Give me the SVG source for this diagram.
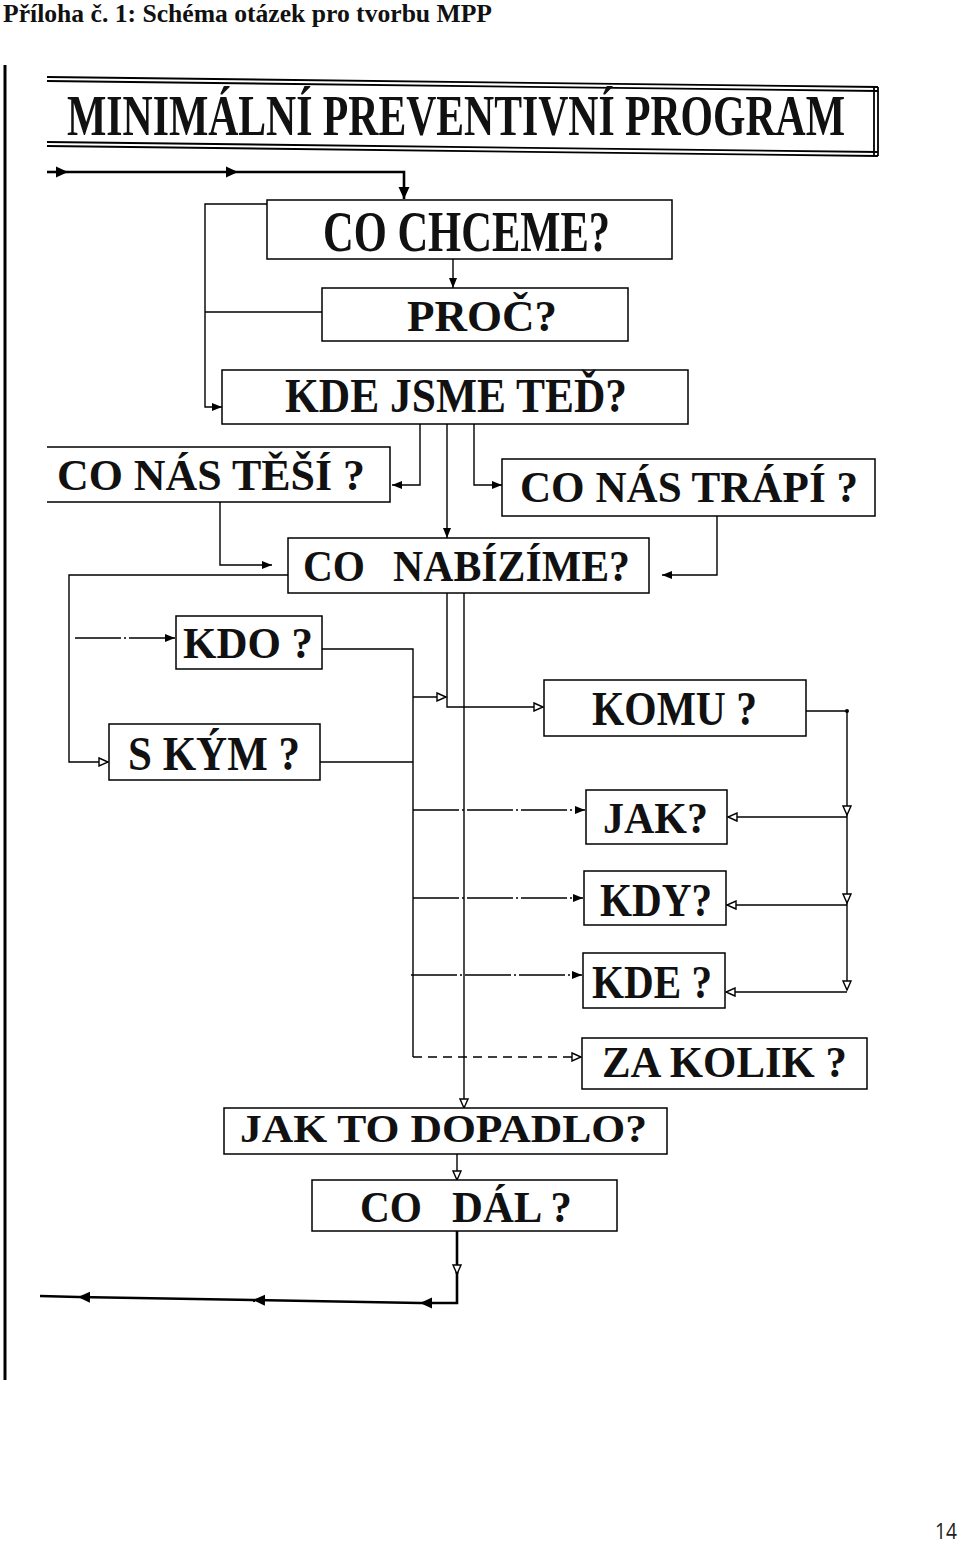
<svg xmlns="http://www.w3.org/2000/svg" width="960" height="1543" viewBox="0 0 960 1543">
<style>
  .bx{fill:#fff;stroke:#000;stroke-width:1.5}
  .t{font-family:"Liberation Serif","Times New Roman",serif;font-weight:bold;fill:#111}
  .c{fill:none;stroke:#000;stroke-width:1.4}
  .thick{fill:none;stroke:#000;stroke-width:2.6}
  .dd{fill:none;stroke:#000;stroke-width:1.3;stroke-dasharray:46 3 2 3}
  .dash{fill:none;stroke:#000;stroke-width:1.3;stroke-dasharray:9 6}
  .tl{fill:none;stroke:#000;stroke-width:1.8}
</style>
<defs>
  <marker id="af" markerUnits="userSpaceOnUse" markerWidth="11" markerHeight="9" refX="10" refY="4.5" orient="auto">
    <path d="M0,0.5 L10,4.5 L0,8.5 z" fill="#000"/>
  </marker>
  <marker id="ao" markerUnits="userSpaceOnUse" markerWidth="12" markerHeight="10" refX="10" refY="5" orient="auto">
    <path d="M1,1 L10,5 L1,9 z" fill="#fff" stroke="#000" stroke-width="1.4"/>
  </marker>
  <marker id="ab" markerUnits="userSpaceOnUse" markerWidth="14" markerHeight="12" refX="12" refY="6" orient="auto">
    <path d="M0,0.5 L12,6 L0,11.5 z" fill="#000"/>
  </marker>
</defs>

<text class="t" x="3" y="22" font-size="26" textLength="489" lengthAdjust="spacingAndGlyphs">Příloha č. 1: Schéma otázek pro tvorbu MPP</text>
<line x1="5" y1="65" x2="5" y2="1380" stroke="#000" stroke-width="3"/>

<g id="title">
  <line class="tl" x1="47" y1="77" x2="878" y2="87"/>
  <line class="tl" x1="47" y1="81" x2="878" y2="91"/>
  <line class="tl" x1="47" y1="142" x2="878" y2="152"/>
  <line class="tl" x1="47" y1="146" x2="878" y2="156"/>
  <line class="tl" x1="874" y1="87" x2="874" y2="156"/>
  <line class="tl" x1="878" y1="87" x2="878" y2="156"/>
  <text class="t" x="0" y="0" font-size="42" textLength="778" lengthAdjust="spacingAndGlyphs" transform="translate(67 135) scale(1 1.35)">MINIMÁLNÍ PREVENTIVNÍ PROGRAM</text>
</g>

<g id="connectors">
  <path class="thick" d="M47,172 H68" marker-end="url(#ab)"/>
  <path class="thick" d="M68,172 H238" marker-end="url(#ab)"/>
  <path class="thick" d="M238,172 H404 V199" marker-end="url(#ab)"/>
  <path class="c" d="M453,259 V288" marker-end="url(#af)"/>
  <path class="c" d="M267,204 H205 V407 H222" marker-end="url(#af)"/>
  <path class="c" d="M322,312 H205"/>
  <path class="c" d="M420,424 V485 H392" marker-end="url(#af)"/>
  <path class="c" d="M447,424 V538" marker-end="url(#af)"/>
  <path class="c" d="M474,424 V485 H502" marker-end="url(#af)"/>
  <path class="c" d="M220,502 V565 H272" marker-end="url(#af)"/>
  <path class="c" d="M717,516 V575 H662" marker-end="url(#af)"/>
  <path class="c" d="M288,575 H69 V762 H108" marker-end="url(#ao)"/>
  <path class="dd" d="M75,638 H175" marker-end="url(#af)"/>
  <path class="c" d="M322,649 H413 V1057"/>
  <path class="c" d="M320,762 H413"/>
  <path class="c" d="M413,697 H446" marker-end="url(#ao)"/>
  <path class="c" d="M447,593 V707 H543" marker-end="url(#ao)"/>
  <path class="c" d="M464,593 V1108" marker-end="url(#ao)"/>
  <path class="dd" d="M413,810 H585" marker-end="url(#af)"/>
  <path class="dd" d="M413,898 H583" marker-end="url(#af)"/>
  <path class="dd" d="M411,975 H582" marker-end="url(#af)"/>
  <path class="dash" d="M413,1057 H581" marker-end="url(#ao)"/>
  <path class="c" d="M806,711 H847 V815" marker-end="url(#ao)"/>
  <circle cx="847" cy="711" r="2" fill="#000"/>
  <path class="c" d="M847,815 V903" marker-end="url(#ao)"/>
  <path class="c" d="M847,903 V990" marker-end="url(#ao)"/>
  <path class="c" d="M847,817 H728" marker-end="url(#ao)"/>
  <path class="c" d="M847,905 H727" marker-end="url(#ao)"/>
  <path class="c" d="M847,992 H726" marker-end="url(#ao)"/>
  <path class="c" d="M457,1154 V1180" marker-end="url(#ao)"/>
  <path class="thick" d="M457,1231 V1274" marker-end="url(#ao)"/>
  <path class="thick" d="M457,1272 V1303 H420" marker-end="url(#ab)"/>
  <path class="thick" d="M420,1303 L253,1300" marker-end="url(#ab)"/>
  <path class="thick" d="M253,1300 L78,1297" marker-end="url(#ab)"/>
  <path class="thick" d="M78,1297 L40,1296"/>
</g>

<g id="co-chceme">
  <rect class="bx" x="267" y="200" width="405" height="59"/>
  <text class="t" x="323" y="251" font-size="58" textLength="287" lengthAdjust="spacingAndGlyphs">CO CHCEME?</text>
</g>
<g id="proc">
  <rect class="bx" x="322" y="288" width="306" height="53"/>
  <text class="t" x="407" y="331" font-size="45" textLength="150" lengthAdjust="spacingAndGlyphs">PROČ?</text>
</g>
<g id="kde-jsme-ted">
  <rect class="bx" x="222" y="370" width="466" height="54"/>
  <text class="t" x="285" y="412" font-size="48" textLength="342" lengthAdjust="spacingAndGlyphs">KDE JSME TEĎ?</text>
</g>
<g id="co-nas-tesi">
  <path class="c" d="M47,447 H390 V502 H47" style="stroke-width:1.5"/>
  <text class="t" x="57" y="490" font-size="44" textLength="308" lengthAdjust="spacingAndGlyphs">CO NÁS TĚŠÍ ?</text>
</g>
<g id="co-nas-trapi">
  <rect class="bx" x="502" y="459" width="373" height="57"/>
  <text class="t" x="520" y="502" font-size="44" textLength="338" lengthAdjust="spacingAndGlyphs">CO NÁS TRÁPÍ ?</text>
</g>
<g id="co-nabizime">
  <rect class="bx" x="288" y="538" width="361" height="55"/>
  <text class="t" x="303" y="581" font-size="44" textLength="62" lengthAdjust="spacingAndGlyphs">CO</text>
  <text class="t" x="393" y="581" font-size="44" textLength="237" lengthAdjust="spacingAndGlyphs">NABÍZÍME?</text>
</g>
<g id="kdo">
  <rect class="bx" x="176" y="616" width="146" height="53"/>
  <text class="t" x="183" y="658" font-size="45" textLength="130" lengthAdjust="spacingAndGlyphs">KDO ?</text>
</g>
<g id="s-kym">
  <rect class="bx" x="109" y="724" width="211" height="56"/>
  <text class="t" x="128" y="770" font-size="48" textLength="172" lengthAdjust="spacingAndGlyphs">S KÝM ?</text>
</g>
<g id="komu">
  <rect class="bx" x="544" y="680" width="262" height="56"/>
  <text class="t" x="592" y="725" font-size="48" textLength="165" lengthAdjust="spacingAndGlyphs">KOMU ?</text>
</g>
<g id="jak">
  <rect class="bx" x="586" y="790" width="141" height="54"/>
  <text class="t" x="603" y="833" font-size="45" textLength="105" lengthAdjust="spacingAndGlyphs">JAK?</text>
</g>
<g id="kdy">
  <rect class="bx" x="584" y="871" width="142" height="54"/>
  <text class="t" x="600" y="916" font-size="46" textLength="112" lengthAdjust="spacingAndGlyphs">KDY?</text>
</g>
<g id="kde">
  <rect class="bx" x="583" y="953" width="142" height="55"/>
  <text class="t" x="592" y="998" font-size="46" textLength="120" lengthAdjust="spacingAndGlyphs">KDE ?</text>
</g>
<g id="za-kolik">
  <rect class="bx" x="582" y="1038" width="285" height="51"/>
  <text class="t" x="602" y="1077" font-size="44" textLength="245" lengthAdjust="spacingAndGlyphs">ZA KOLIK ?</text>
</g>
<g id="jak-to-dopadlo">
  <rect class="bx" x="224" y="1108" width="443" height="46"/>
  <text class="t" x="240" y="1142" font-size="41" textLength="407" lengthAdjust="spacingAndGlyphs">JAK TO DOPADLO?</text>
</g>
<g id="co-dal">
  <rect class="bx" x="312" y="1180" width="305" height="51"/>
  <text class="t" x="360" y="1222" font-size="44" textLength="62" lengthAdjust="spacingAndGlyphs">CO</text>
  <text class="t" x="452" y="1222" font-size="44" textLength="120" lengthAdjust="spacingAndGlyphs">DÁL ?</text>
</g>

<text x="935" y="1539" font-family="'Open Sans','Liberation Sans',sans-serif" font-size="22" fill="#222" textLength="22" lengthAdjust="spacingAndGlyphs">14</text>
</svg>
